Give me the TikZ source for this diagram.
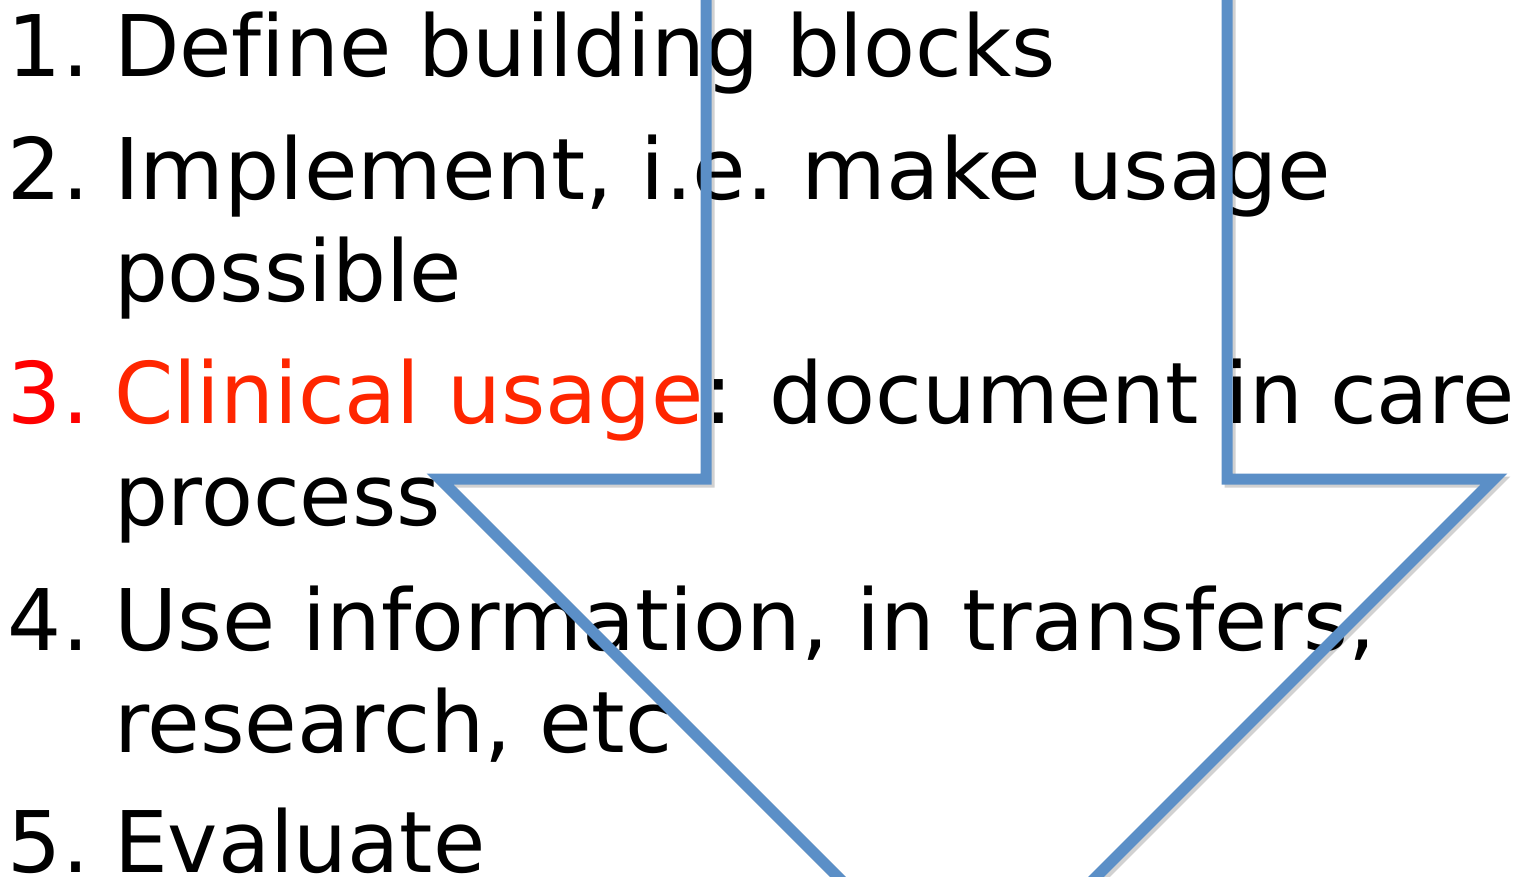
\documentclass[tikz,border=0pt]{standalone}
\usepackage{fontspec}
\setmainfont[Ligatures=NoCommon]{DejaVu Sans}
\definecolor{arrowblue}{RGB}{91,143,199}
\definecolor{numred}{RGB}{255,0,0}
\definecolor{hired}{RGB}{255,38,0}
\frenchspacing
\begin{document}
\begin{tikzpicture}[x=0.5pt,y=-0.5pt,
  txt/.style={anchor=base west,inner sep=0pt,outer sep=0pt,font=\fontsize{42.5}{51}\selectfont},
  arrowline/.style={draw=arrowblue,line width=5.5pt,line join=miter,miter limit=10},
  arrowshadow/.style={draw=black,opacity=0.18,line width=5.5pt,line join=miter,miter limit=10}]
\useasboundingbox (0,0) rectangle (1521,877);
\fill[white] (0,0) rectangle (1521,877);
% list text
\node[txt] (n1) at (8,77) {1.};
\node[txt] (t1) at (114,77) {Define building blocks};
\node[txt] (n2) at (8,200) {2.};
\node[txt] (t2a) at (114,200) {\scalebox{1.025}[1]{Implement, i.e. make usage}};
\node[txt] (t2b) at (114,301) {possible};
\node[txt,text=numred] (n3) at (8,423) {3.};
\node[txt] (t3a) at (114,423) {\textcolor{hired}{Clinical usage}:\kern5pt{} document in care};
\node[txt] (t3b) at (114,525) {process};
\node[txt] (n4) at (8,650) {4.};
\node[txt] (t4a) at (114,650) {\scalebox{1.016}[1]{Use information, in transfers,}};
\node[txt] (t4b) at (114,752) {\scalebox{1.008}[1]{research, etc}};
\node[txt] (n5) at (8,872) {5.};
\node[txt] (t5) at (114,872) {Evaluate};
% block arrow outline
\begin{scope}
\clip (0,0) rectangle (1521,877);
\draw[arrowshadow] (709,-60) -- (709,482) -- (443,482) -- (970,1009) -- (1497,482) -- (1230,482) -- (1230,-60);
\draw[arrowline] (706,-60) -- (706,479) -- (440,479) -- (967,1006) -- (1494,479) -- (1227,479) -- (1227,-60);
\end{scope}
\end{tikzpicture}
\end{document}
